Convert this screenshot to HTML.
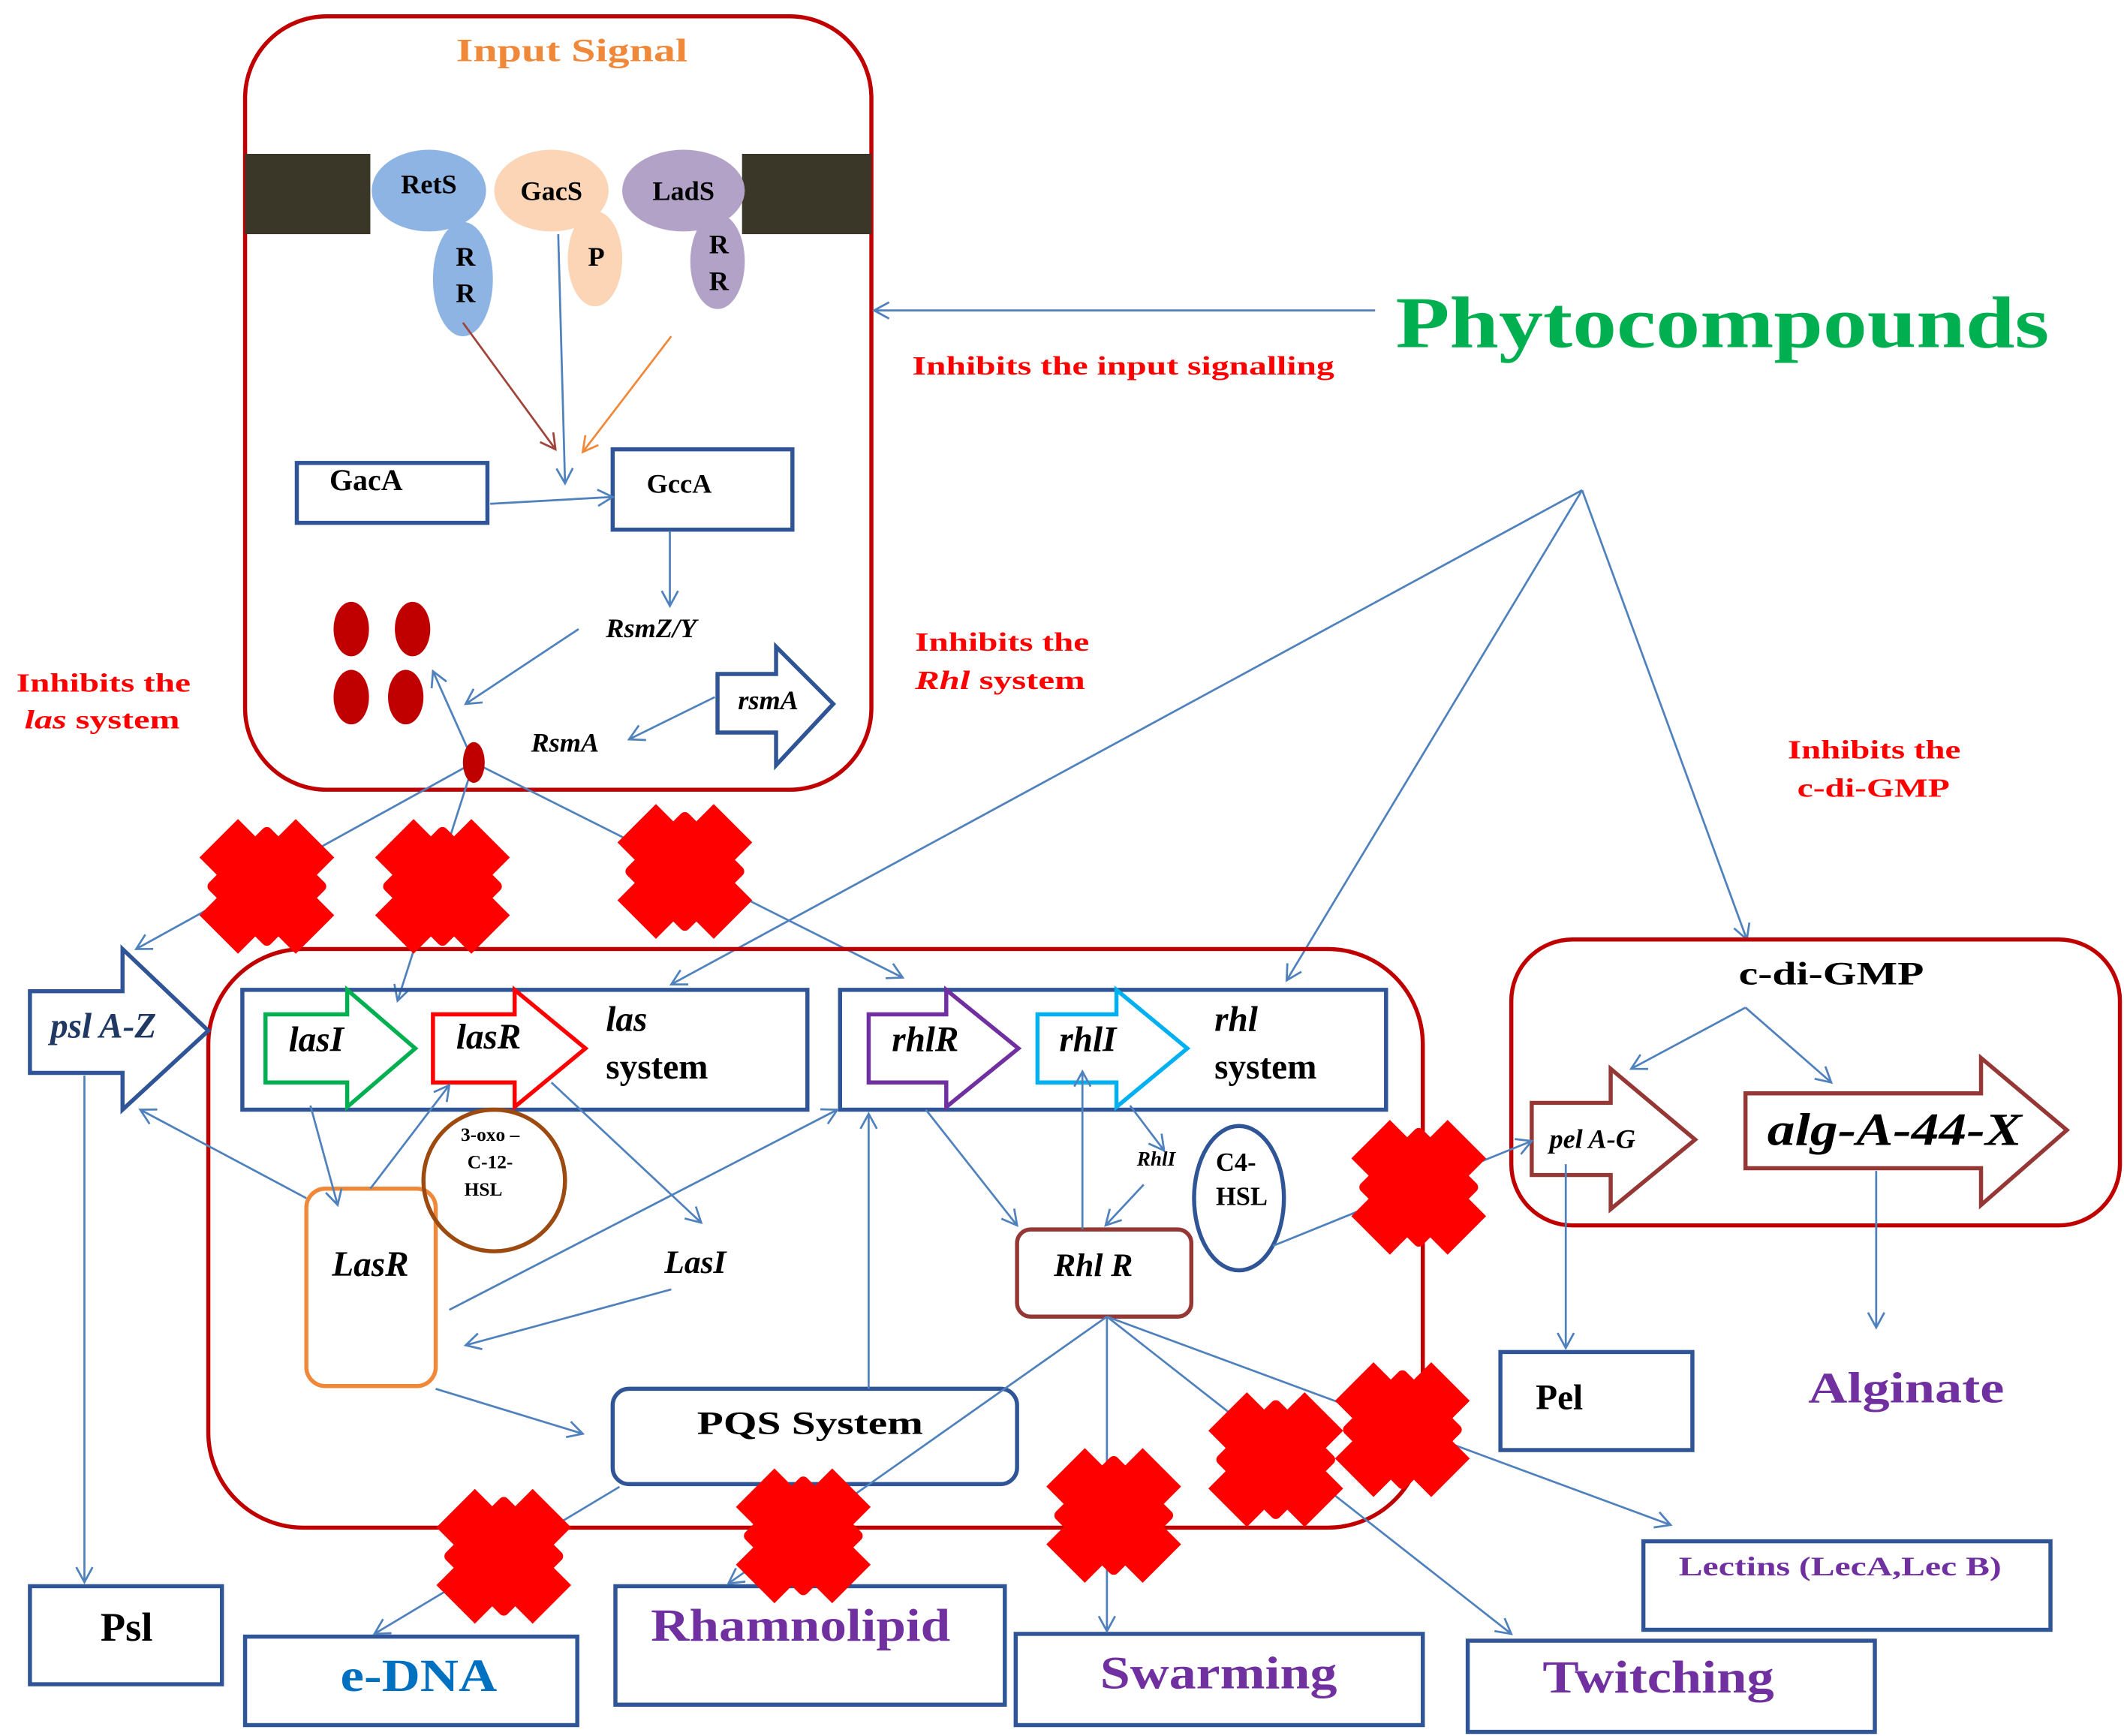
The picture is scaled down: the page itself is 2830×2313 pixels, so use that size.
<!DOCTYPE html>
<html><head><meta charset="utf-8"><style>
html,body{margin:0;padding:0;background:#fff}
svg{display:block}
text{font-family:"Liberation Serif",serif;font-weight:bold}
</style></head><body>
<svg width="2830" height="2313" viewBox="0 0 1560 1275" preserveAspectRatio="none" xmlns="http://www.w3.org/2000/svg">
<defs>
<marker id="a" markerWidth="14" markerHeight="14" refX="12" refY="7" orient="auto" markerUnits="userSpaceOnUse">
<path d="M1,1 L12,7 L1,13" fill="none" stroke="#4f81bd" stroke-width="1.5"/></marker>
<marker id="ab" markerWidth="14" markerHeight="14" refX="12" refY="7" orient="auto" markerUnits="userSpaceOnUse">
<path d="M1,1 L12,7 L1,13" fill="none" stroke="#a0433a" stroke-width="1.5"/></marker>
<marker id="ao" markerWidth="14" markerHeight="14" refX="12" refY="7" orient="auto" markerUnits="userSpaceOnUse">
<path d="M1,1 L12,7 L1,13" fill="none" stroke="#f0883a" stroke-width="1.5"/></marker>
<g id="x"><rect x="-20" y="-50" width="40" height="100" fill="#ff0000" transform="rotate(45)"/><rect x="-20" y="-50" width="40" height="100" fill="#ff0000" transform="rotate(-45)"/><rect x="-32" y="-32" width="64" height="64" fill="#ff0000" transform="rotate(45)" rx="4"/></g>
</defs>
<rect width="1560" height="1275" fill="#fff"/>
<rect x="180" y="12" width="460" height="568" rx="60" fill="none" stroke="#c00000" stroke-width="3"/>
<text x="335" y="45" font-size="24" fill="#f0883a" textLength="170" lengthAdjust="spacingAndGlyphs">Input  Signal</text>
<rect x="180" y="113" width="92" height="59" fill="#3b3728"/>
<rect x="545" y="113" width="95" height="59" fill="#3b3728"/>
<ellipse cx="340" cy="205" rx="22" ry="42" fill="#8eb4e3"/>
<ellipse cx="315" cy="140" rx="42" ry="30" fill="#8eb4e3"/>
<ellipse cx="437" cy="190" rx="20" ry="35" fill="#fbd5b5"/>
<ellipse cx="405" cy="140" rx="42" ry="30" fill="#fbd5b5"/>
<ellipse cx="527" cy="192" rx="20" ry="35" fill="#b3a2c7"/>
<ellipse cx="502" cy="140" rx="45" ry="30" fill="#b3a2c7"/>
<g font-size="20" fill="#000" text-anchor="middle">
<text x="315" y="142">RetS</text><text x="342" y="195">R</text><text x="342" y="222">R</text>
<text x="405" y="147">GacS</text><text x="438" y="195">P</text>
<text x="502" y="147">LadS</text><text x="528" y="186">R</text><text x="528" y="213">R</text>
</g>
<line x1="340" y1="237" x2="408" y2="330" stroke="#a0433a" stroke-width="1.5" marker-end="url(#ab)"/>
<line x1="410" y1="172" x2="415" y2="355" stroke="#4f81bd" stroke-width="1.5" marker-end="url(#a)"/>
<line x1="493" y1="247" x2="428" y2="332" stroke="#f0883a" stroke-width="1.5" marker-end="url(#ao)"/>
<rect x="218" y="340" width="140" height="44" fill="none" stroke="#2f5597" stroke-width="3"/>
<rect x="450" y="330" width="132" height="59" fill="none" stroke="#2f5597" stroke-width="3"/>
<text x="242" y="360" font-size="22">GacA</text>
<text x="475" y="362" font-size="20">GccA</text>
<g stroke="#4f81bd" stroke-width="1.5" fill="none" marker-end="url(#a)">
<line x1="360" y1="370" x2="450" y2="365"/>
<line x1="492" y1="390" x2="492" y2="445"/>
<line x1="425" y1="462" x2="342" y2="517"/>
<line x1="525" y1="512" x2="462" y2="543"/>
<line x1="348" y1="560" x2="318" y2="493"/>
<line x1="348" y1="560" x2="100" y2="697"/>
<line x1="348" y1="560" x2="292" y2="735"/>
<line x1="348" y1="560" x2="663" y2="718"/>
<line x1="1010" y1="228" x2="642" y2="228"/>
<line x1="1162" y1="360" x2="493" y2="723"/>
<line x1="1162" y1="360" x2="945" y2="720"/>
<line x1="1162" y1="360" x2="1283" y2="690"/>
</g>
<text x="445" y="468" font-size="20" font-style="italic">RsmZ/Y</text>
<text x="390" y="552" font-size="20" font-style="italic">RsmA</text>
<g fill="#c00000"><ellipse cx="258" cy="462" rx="13" ry="20"/><ellipse cx="303" cy="462" rx="13" ry="20"/><ellipse cx="258" cy="512" rx="13" ry="20"/><ellipse cx="298" cy="512" rx="13" ry="20"/><ellipse cx="348" cy="560" rx="8" ry="15"/></g>
<path d="M527,495 H570 V475 L612,517 L570,562 V538 H527 Z" fill="#fff" stroke="#2f5597" stroke-width="3"/>
<text x="542" y="521" font-size="20" font-style="italic">rsmA</text>
<text x="1025" y="255" font-size="54" fill="#00b050" textLength="480" lengthAdjust="spacingAndGlyphs">Phytocompounds</text>
<g font-size="19" fill="#ff0000" lengthAdjust="spacingAndGlyphs">
<text x="670" y="275" textLength="310" lengthAdjust="spacingAndGlyphs">Inhibits the input signalling</text>
<text x="672" y="478" textLength="128" lengthAdjust="spacingAndGlyphs">Inhibits the</text><text x="672" y="506" textLength="125" lengthAdjust="spacingAndGlyphs"><tspan font-style="italic">Rhl</tspan> system</text>
<text x="12" y="508" textLength="128" lengthAdjust="spacingAndGlyphs">Inhibits the</text><text x="18" y="535" textLength="114" lengthAdjust="spacingAndGlyphs"><tspan font-style="italic">las</tspan> system</text>
<text x="1313" y="557" textLength="127" lengthAdjust="spacingAndGlyphs">Inhibits the</text><text x="1320" y="585" textLength="112" lengthAdjust="spacingAndGlyphs">c-di-GMP</text>
</g>
<rect x="153" y="697" width="892" height="425" rx="70" fill="none" stroke="#c00000" stroke-width="3"/>
<rect x="178" y="727" width="415" height="88" fill="none" stroke="#2f5597" stroke-width="3"/>
<rect x="617" y="727" width="401" height="88" fill="none" stroke="#2f5597" stroke-width="3"/>
<path d="M195,745 H255 V727 L305,770 L255,813 V795 H195 Z" fill="#fff" stroke="#00b050" stroke-width="3"/>
<path d="M318,745 H378 V727 L430,770 L378,813 V795 H318 Z" fill="#fff" stroke="#ff0000" stroke-width="3"/>
<path d="M638,745 H695 V727 L748,770 L695,813 V795 H638 Z" fill="#fff" stroke="#7030a0" stroke-width="3"/>
<path d="M762,745 H820 V727 L872,770 L820,813 V795 H762 Z" fill="#fff" stroke="#00b0f0" stroke-width="3"/>
<path d="M22,728 H90 V697 L153,757 L90,815 V788 H22 Z" fill="#fff" stroke="#2f5597" stroke-width="3"/>
<g font-size="26" font-style="italic">
<text x="212" y="772">lasI</text><text x="335" y="770">lasR</text><text x="655" y="772">rhlR</text><text x="778" y="772">rhlI</text>
<text x="445" y="757">las</text><text x="892" y="757">rhl</text>
<text x="37" y="762" fill="#1f3864">psl A-Z</text>
</g>
<text x="445" y="792" font-size="26">system</text><text x="892" y="792" font-size="26">system</text>
<rect x="225" y="873" width="95" height="145" rx="14" fill="none" stroke="#f0883a" stroke-width="3"/>
<text x="272" y="937" font-size="26" font-style="italic" text-anchor="middle">LasR</text>
<circle cx="363" cy="867" r="52" fill="none" stroke="#9c4a0f" stroke-width="3"/>
<g font-size="14" text-anchor="middle"><text x="360" y="838">3-oxo –</text><text x="360" y="858">C-12-</text><text x="355" y="878">HSL</text></g>
<text x="488" y="935" font-size="24" font-style="italic">LasI</text>
<rect x="747" y="903" width="128" height="64" rx="10" fill="none" stroke="#953735" stroke-width="3"/>
<text x="803" y="937" font-size="24" font-style="italic" text-anchor="middle">Rhl R</text>
<ellipse cx="910" cy="880" rx="33" ry="53" fill="none" stroke="#2f5597" stroke-width="3"/>
<text x="893" y="860" font-size="19">C4-</text><text x="893" y="885" font-size="19">HSL</text>
<text x="835" y="856" font-size="15" font-style="italic">RhlI</text>
<rect x="450" y="1020" width="297" height="70" rx="12" fill="none" stroke="#2f5597" stroke-width="3"/>
<text x="512" y="1053" font-size="24" textLength="166" lengthAdjust="spacingAndGlyphs">PQS System</text>
<rect x="1110" y="690" width="447" height="210" rx="45" fill="none" stroke="#c00000" stroke-width="3"/>
<text x="1277" y="723" font-size="24" textLength="136" lengthAdjust="spacingAndGlyphs">c-di-GMP</text>
<path d="M1125,810 H1183 V785 L1245,837 L1183,888 V863 H1125 Z" fill="#fff" stroke="#953735" stroke-width="3"/>
<path d="M1282,803 H1455 V777 L1518,830 L1455,885 V858 H1282 Z" fill="#fff" stroke="#953735" stroke-width="3"/>
<text x="1138" y="843" font-size="20" font-style="italic">pel A-G</text>
<text x="1298" y="841" font-size="34" font-style="italic" textLength="187" lengthAdjust="spacingAndGlyphs">alg-A-44-X</text>
<g fill="none" stroke-width="3" stroke="#2f5597">
<rect x="1102" y="993" width="141" height="72"/>
<rect x="1207" y="1132" width="299" height="65"/>
<rect x="1078" y="1205" width="299" height="67"/>
<rect x="746" y="1200" width="299" height="67"/>
<rect x="452" y="1165" width="286" height="87"/>
<rect x="180" y="1202" width="244" height="65"/>
<rect x="22" y="1165" width="141" height="72"/>
</g>
<text x="1128" y="1035" font-size="26">Pel</text>
<text x="1328" y="1030" font-size="32" fill="#7030a0" textLength="144" lengthAdjust="spacingAndGlyphs">Alginate</text>
<text x="1233" y="1157" font-size="20" fill="#7030a0" textLength="237" lengthAdjust="spacingAndGlyphs">Lectins (LecA,Lec B)</text>
<text x="1133" y="1243" font-size="34" fill="#7030a0" textLength="170" lengthAdjust="spacingAndGlyphs">Twitching</text>
<text x="808" y="1240" font-size="34" fill="#7030a0" textLength="174" lengthAdjust="spacingAndGlyphs">Swarming</text>
<text x="478" y="1205" font-size="34" fill="#7030a0" textLength="220" lengthAdjust="spacingAndGlyphs">Rhamnolipid</text>
<text x="250" y="1242" font-size="34" fill="#0070c0" textLength="115" lengthAdjust="spacingAndGlyphs">e-DNA</text>
<text x="93" y="1205" font-size="30" text-anchor="middle">Psl</text>
<g stroke="#4f81bd" stroke-width="1.5" fill="none" marker-end="url(#a)">
<line x1="228" y1="812" x2="248" y2="885"/>
<line x1="272" y1="873" x2="330" y2="797"/>
<line x1="405" y1="795" x2="515" y2="898"/>
<line x1="493" y1="947" x2="342" y2="988"/>
<line x1="225" y1="880" x2="103" y2="815"/>
<line x1="330" y1="962" x2="615" y2="815"/>
<line x1="320" y1="1020" x2="428" y2="1053"/>
<line x1="638" y1="1020" x2="638" y2="818"/>
<line x1="680" y1="815" x2="747" y2="900"/>
<line x1="795" y1="903" x2="795" y2="787"/>
<line x1="830" y1="812" x2="855" y2="845"/>
<line x1="840" y1="870" x2="812" y2="900"/>
<line x1="935" y1="915" x2="1125" y2="838"/>
<line x1="813" y1="967" x2="535" y2="1163"/>
<line x1="813" y1="967" x2="813" y2="1198"/>
<line x1="813" y1="967" x2="1110" y2="1200"/>
<line x1="813" y1="967" x2="1227" y2="1120"/>
<line x1="455" y1="1092" x2="275" y2="1200"/>
<line x1="62" y1="790" x2="62" y2="1162"/>
<line x1="1282" y1="740" x2="1198" y2="785"/>
<line x1="1282" y1="740" x2="1345" y2="795"/>
<line x1="1150" y1="855" x2="1150" y2="990"/>
<line x1="1378" y1="860" x2="1378" y2="975"/>
</g>
<use href="#x" x="196" y="651"/><use href="#x" x="325" y="651"/><use href="#x" x="503" y="640"/>
<use href="#x" x="1042" y="872"/><use href="#x" x="1030" y="1050"/><use href="#x" x="937" y="1072"/>
<use href="#x" x="818" y="1113"/><use href="#x" x="590" y="1128"/><use href="#x" x="370" y="1143"/>
</svg>
</body></html>
